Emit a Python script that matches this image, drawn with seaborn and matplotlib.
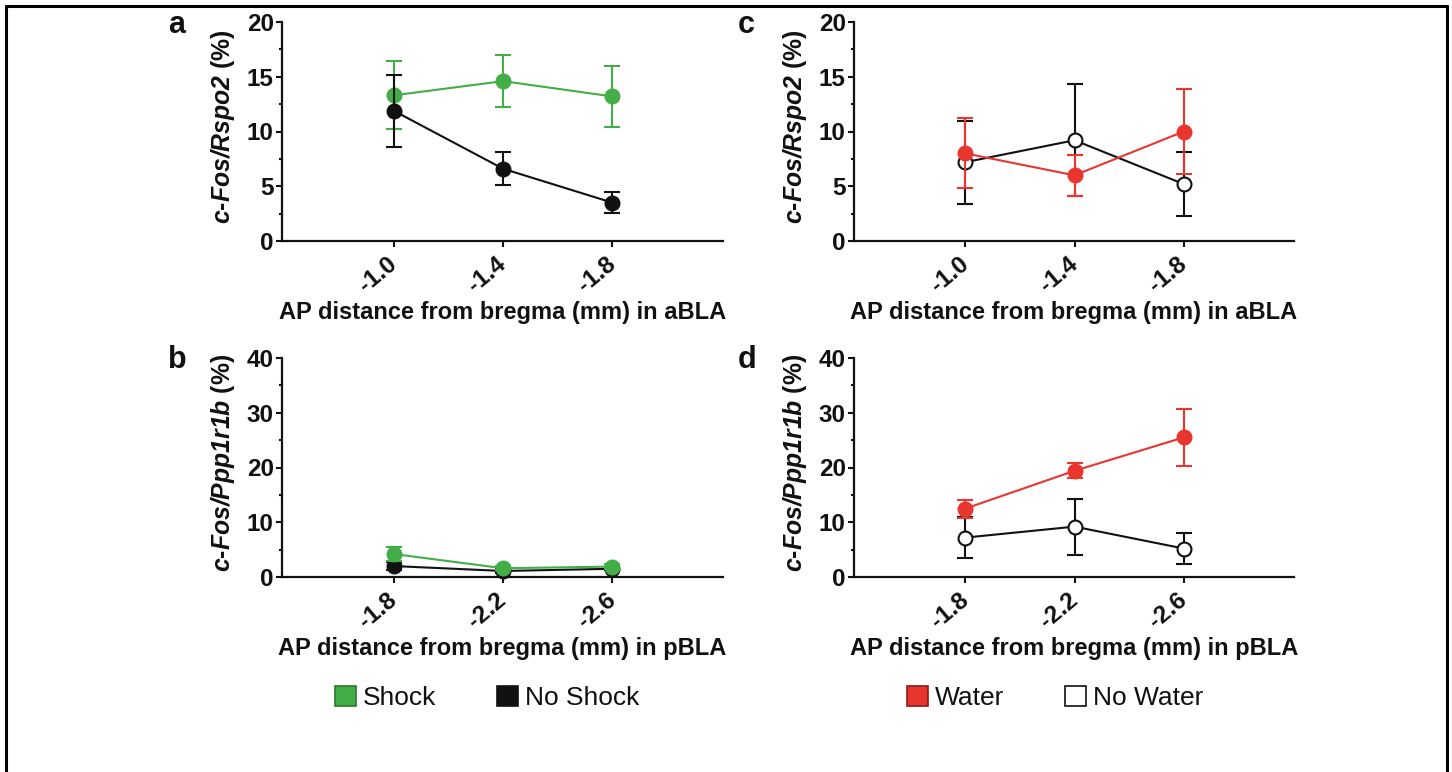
import matplotlib
matplotlib.use("Agg")
import matplotlib.pyplot as plt
import seaborn as sns
import pandas as pd
from matplotlib.lines import Line2D
from matplotlib.patches import Patch
from matplotlib.ticker import MultipleLocator


# tick labels (AP distance from bregma, mm)
abla_ticks = ["-1.0", "-1.4", "-1.8"]
pbla_ticks = ["-1.8", "-2.2", "-2.6"]

# shock experiment (mean, sem)
shock_abla = [13.3, 14.6, 13.2]
shock_abla_sem = [3.1, 2.4, 2.8]
noshock_abla = [11.9, 6.6, 3.5]
noshock_abla_sem = [3.3, 1.5, 0.95]
shock_pbla = [4.2, 1.6, 1.9]
shock_pbla_sem = [1.2, 0.4, 0.4]
noshock_pbla = [2.0, 1.1, 1.5]
noshock_pbla_sem = [0.8, 0.3, 0.3]

# water experiment (mean, sem)
water_abla = [8.0, 6.0, 10.0]
water_abla_sem = [3.2, 1.85, 3.9]
nowater_abla = [7.2, 9.2, 5.2]
nowater_abla_sem = [3.8, 5.1, 2.9]
water_pbla = [12.5, 19.4, 25.5]
water_pbla_sem = [1.65, 1.4, 5.2]
nowater_pbla = [7.2, 9.2, 5.2]
nowater_pbla_sem = [3.8, 5.1, 2.9]

GREEN = "#43ad47"
GREEN_EDGE = "#2a7a2e"
RED = "#e8352e"
RED_EDGE = "#8a1c18"
BLACK = "#111111"

W, H = 1452, 772

sns.set_style("ticks")
plt.rcParams["font.family"] = ["Liberation Sans", "DejaVu Sans"]
plt.rcParams["font.weight"] = "bold"
plt.rcParams["mathtext.fontset"] = "custom"
plt.rcParams["mathtext.it"] = "Liberation Sans:italic:bold"
plt.rcParams["mathtext.rm"] = "Liberation Sans:italic:bold"
plt.rcParams["mathtext.bf"] = "Liberation Sans:bold"


def draw_series(ax, means, sems, color, face, order):
    df = pd.DataFrame({"pos": range(len(means)), "value": means, "sem": sems})
    ax.errorbar(df["pos"], df["value"], yerr=df["sem"], fmt="none", ecolor=color,
                elinewidth=1.5, capsize=5.5, capthick=1.5, zorder=order, clip_on=False)
    sns.lineplot(data=df, x="pos", y="value", ax=ax, color=color, linewidth=1.5,
                 marker="o", markersize=10, markerfacecolor=face, markeredgecolor=color,
                 markeredgewidth=1.5, zorder=order + 0.5, clip_on=False)


def style_axes(ax, ticks, ymax, ystep, ylabel, xlabel):
    ax.set_xlim(-1.02, 3.01)
    ax.set_ylim(0, ymax)
    ax.set_xticks(range(len(ticks)))
    ax.set_xticklabels(ticks, rotation=40, ha="right", va="center", rotation_mode="anchor")
    ax.yaxis.set_major_locator(MultipleLocator(ystep))
    ax.yaxis.set_minor_locator(MultipleLocator(ystep / 2))
    ax.tick_params(axis="both", which="major", labelsize=17.5, width=1.5, length=4.5,
                   color=BLACK, labelcolor=BLACK)
    ax.tick_params(axis="x", which="major", pad=10)
    ax.tick_params(axis="y", which="major", pad=1.5)
    ax.tick_params(axis="y", which="minor", width=1.5, length=2.5, color=BLACK)
    for lab in ax.get_xticklabels() + ax.get_yticklabels():
        lab.set_fontweight("bold")
    for side in ["left", "bottom"]:
        ax.spines[side].set_linewidth(1.6)
        ax.spines[side].set_color(BLACK)
    sns.despine(ax=ax)
    ax.set_ylabel(ylabel, fontsize=17.8, fontweight="bold", color=BLACK)
    ax.set_xlabel(xlabel, fontsize=17, fontweight="bold", color=BLACK)
    ax.yaxis.set_label_coords(-0.102, 0.52)
    ax.xaxis.set_label_coords(0.5, -0.272)


fig = plt.figure(figsize=(W / 100, H / 100), dpi=100)

ax_a = fig.add_axes([282 / W, 1 - 241 / H, 441 / W, 219 / H])
ax_c = fig.add_axes([854 / W, 1 - 241 / H, 440 / W, 219 / H])
ax_b = fig.add_axes([282 / W, 1 - 577 / H, 441 / W, 219 / H])
ax_d = fig.add_axes([854 / W, 1 - 577 / H, 440 / W, 219 / H])

rspo2 = r"$\mathit{c}$-$\mathit{Fos}\mathrm{/}\mathit{Rspo2}$ (%)"
ppp1r1b = r"$\mathit{c}$-$\mathit{Fos}\mathrm{/}\mathit{Ppp1r1b}$ (%)"
xa = "AP distance from bregma (mm) in aBLA"
xp = "AP distance from bregma (mm) in pBLA"

# a: shock, aBLA
draw_series(ax_a, shock_abla, shock_abla_sem, GREEN, GREEN, 3)
draw_series(ax_a, noshock_abla, noshock_abla_sem, BLACK, BLACK, 4)
style_axes(ax_a, abla_ticks, 20, 5, rspo2, xa)

# b: shock, pBLA
draw_series(ax_b, noshock_pbla, noshock_pbla_sem, BLACK, BLACK, 3)
draw_series(ax_b, shock_pbla, shock_pbla_sem, GREEN, GREEN, 4)
style_axes(ax_b, pbla_ticks, 40, 10, ppp1r1b, xp)

# c: water, aBLA
draw_series(ax_c, nowater_abla, nowater_abla_sem, BLACK, "white", 3)
draw_series(ax_c, water_abla, water_abla_sem, RED, RED, 4)
style_axes(ax_c, abla_ticks, 20, 5, rspo2, xa)

# d: water, pBLA
draw_series(ax_d, nowater_pbla, nowater_pbla_sem, BLACK, "white", 3)
draw_series(ax_d, water_pbla, water_pbla_sem, RED, RED, 4)
style_axes(ax_d, pbla_ticks, 40, 10, ppp1r1b, xp)

# panel letters
for letter, x, y in [("a", 168, 33), ("b", 168, 368), ("c", 738, 33), ("d", 738, 368)]:
    fig.text(x / W, 1 - y / H, letter, fontsize=22, fontweight="bold",
             ha="left", va="baseline", color=BLACK)

# legends
shock_handles = [
    Patch(facecolor=GREEN, edgecolor=GREEN_EDGE, linewidth=1.2, label="Shock"),
    Patch(facecolor=BLACK, edgecolor=BLACK, linewidth=1.2, label="No Shock"),
]
water_handles = [
    Patch(facecolor=RED, edgecolor=RED_EDGE, linewidth=1.2, label="Water"),
    Patch(facecolor="white", edgecolor=BLACK, linewidth=1.2, label="No Water"),
]
for handles, cx in [(shock_handles, 487), (water_handles, 1055)]:
    leg = fig.legend(handles=handles, loc="center", bbox_to_anchor=(cx / W, 1 - 698 / H),
                     ncol=2, frameon=False, handlelength=0.82, handleheight=0.82,
                     handletextpad=0.25, columnspacing=2.3,
                     prop={"family": "Liberation Sans", "size": 19, "weight": "normal"})
    for t in leg.get_texts():
        t.set_color(BLACK)

# frame around the figure (open at the bottom)
lw = 2.2
fig.add_artist(Line2D([6 / W, 1447 / W], [1 - 6 / H, 1 - 6 / H], color="black", lw=lw))
fig.add_artist(Line2D([6 / W, 6 / W], [1 - 6 / H, 0], color="black", lw=lw))
fig.add_artist(Line2D([1447 / W, 1447 / W], [1 - 6 / H, 0], color="black", lw=lw))

fig.savefig("out.png", dpi=100)
plt.close(fig)
